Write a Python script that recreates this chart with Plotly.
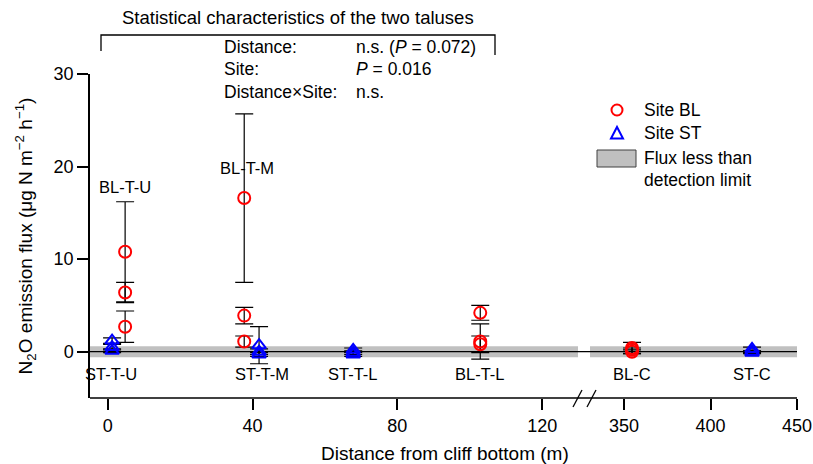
import plotly.graph_objects as go

# ---------------- data ----------------
# Site BL (circles)
bl_near_x = [4.8, 4.8, 4.8, 37.7, 37.7, 37.7, 102.9, 102.9, 102.9]
bl_near_y = [10.8, 6.4, 2.7, 16.6, 3.9, 1.1, 4.2, 1.1, 0.8]
bl_near_err = [5.4, 1.1, 1.7, 9.1, 0.9, 0.6, 0.8, 1.9, 0.9]
bl_far_x = [354.6, 354.6, 354.6]
bl_far_y = [0.4, 0.2, 0.0]
bl_far_err = [0.6, 0.2, 0.2]

# Site ST (triangles)
st_near_x = [1.2, 1.2, 1.2, 41.8, 41.8, 41.8, 67.8, 67.8, 67.8]
st_near_y = [1.2, 0.5, 0.1, 0.7, 0.0, -0.3, 0.2, -0.1, -0.3]
st_near_err = [0.3, 0.3, 0.2, 2.0, 0.3, 0.2, 0.2, 0.2, 0.2]
st_far_x = [424, 424, 424]
st_far_y = [0.3, 0.0, -0.1]
st_far_err = [0.2, 0.1, 0.1]

detection_limit = 0.6

# location labels
top_labels = ["BL-T-U", "BL-T-M"]
top_label_x = [4.8, 38.5]
top_label_y = [17.8, 19.9]
bottom_labels_near = ["ST-T-U", "ST-T-M", "ST-T-L", "BL-T-L"]
bottom_labels_near_x = [1.0, 42.5, 67.8, 102.9]
bottom_labels_far = ["BL-C", "ST-C"]
bottom_labels_far_x = [354.6, 424]
bottom_label_y = -2.4

left_ticks = [0, 40, 80, 120]
right_ticks = [350, 400, 450]
y_ticks = [0, 10, 20, 30]

# ---------------- layout helpers ----------------
W, H = 813, 464
L, R, T, B = 90, 16, 74, 66
PW, PH = W - L - R, H - T - B


def px(X):
    return (X - L) / PW


def py(Y):
    return (H - B - Y) / PH


FONT = "Arial, Liberation Sans, sans-serif"
RED = "#ff0000"
BLUE = "#0000ff"
GRAY = "#c0c0c0"

fig = go.Figure()

err_style = dict(type="data", visible=True, color="black", thickness=1.2, width=9)


def add_series(x, y, err, xaxis, symbol, color):
    fig.add_trace(go.Scatter(
        x=x, y=y, xaxis=xaxis, yaxis="y", mode="markers",
        error_y=dict(array=err, **err_style),
        marker=dict(symbol=symbol, size=12, color=color,
                    line=dict(color=color, width=2)),
        showlegend=False, cliponaxis=False,
    ))


add_series(bl_near_x, bl_near_y, bl_near_err, "x", "circle-open", RED)
add_series(st_near_x, st_near_y, st_near_err, "x", "triangle-up-open", BLUE)
add_series(bl_far_x, bl_far_y, bl_far_err, "x2", "circle-open", RED)
add_series(st_far_x, st_far_y, st_far_err, "x2", "triangle-up-open", BLUE)

shapes = []
# detection-limit bands
for xr in ["x domain", "x2 domain"]:
    shapes.append(dict(type="rect", xref=xr, yref="y", x0=0, x1=1,
                       y0=-detection_limit, y1=detection_limit,
                       fillcolor=GRAY, line=dict(width=0), layer="below"))
# zero line
shapes.append(dict(type="line", xref="paper", yref="y", x0=0, x1=1, y0=0, y1=0,
                   line=dict(color="black", width=1.3), layer="below"))
# bottom axis line (continuous across break)
shapes.append(dict(type="line", xref="paper", yref="paper", x0=0, x1=1, y0=0, y1=0,
                   line=dict(color="black", width=1.5)))
# break marks
for x0 in [573, 587]:
    shapes.append(dict(type="line", xref="paper", yref="paper",
                       x0=px(x0), x1=px(x0 + 9), y0=py(407), y1=py(390),
                       line=dict(color="black", width=1.3)))
# top bracket
shapes.append(dict(type="path", xref="paper", yref="paper",
                   path=f"M {px(101)} {py(51)} L {px(101)} {py(35)} L {px(495)} {py(35)} L {px(495)} {py(55)}",
                   line=dict(color="black", width=1.3)))
# legend symbols
shapes.append(dict(type="circle", xref="paper", yref="paper",
                   x0=px(611.5), x1=px(622.5), y0=py(104.5), y1=py(115.5),
                   line=dict(color=RED, width=2)))
shapes.append(dict(type="path", xref="paper", yref="paper",
                   path=f"M {px(611)} {py(138.5)} L {px(623)} {py(138.5)} L {px(617)} {py(127)} Z",
                   line=dict(color=BLUE, width=2)))
shapes.append(dict(type="rect", xref="paper", yref="paper",
                   x0=px(597), x1=px(636), y0=py(150), y1=py(167),
                   fillcolor=GRAY, line=dict(color="#404040", width=1)))

ann = []


def note(text, x, y, size, xref="paper", yref="paper", xanchor="center"):
    ann.append(dict(text=text, x=x, y=y, xref=xref, yref=yref, showarrow=False,
                    xanchor=xanchor, yanchor="middle",
                    font=dict(family=FONT, size=size, color="black")))


for t, x, y in zip(top_labels, top_label_x, top_label_y):
    note(t, x, y, 16.5, "x", "y")
for t, x in zip(bottom_labels_near, bottom_labels_near_x):
    note(t, x, bottom_label_y, 16.5, "x", "y")
for t, x in zip(bottom_labels_far, bottom_labels_far_x):
    note(t, x, bottom_label_y, 16.5, "x2", "y")

note("Statistical characteristics of the two taluses", px(298), py(18), 18.5)
rows = [("Distance:", "n.s. (<i>P</i> = 0.072)", 47),
        ("Site:", "<i>P</i> = 0.016", 69),
        ("Distance×Site:", "n.s.", 92)]
for a, b, Y in rows:
    note(a, px(222), py(Y), 17.5, xanchor="left")
    note(b, px(354), py(Y), 17.5, xanchor="left")
# legend texts
for t, Y in [("Site BL", 110), ("Site ST", 133), ("Flux less than", 158), ("detection limit", 180)]:
    note(t, px(642), py(Y), 17.5, xanchor="left")
# x axis title
note("Distance from cliff bottom (m)", px(445), py(453), 19)

axis_common = dict(showgrid=False, zeroline=False, ticks="outside", ticklen=11,
                   tickwidth=1.5, tickcolor="black", automargin=False,
                   ticklabeloverflow="allow",
                   tickfont=dict(family=FONT, size=18, color="black"))

fig.update_layout(
    template="none",
    width=W, height=H,
    margin=dict(l=L, r=R, t=T, b=B),
    paper_bgcolor="white", plot_bgcolor="white",
    showlegend=False,
    xaxis=dict(domain=[0, px(578)], range=[-4.9, 129.9], tickvals=left_ticks,
               showline=False, anchor="y", **axis_common),
    xaxis2=dict(domain=[px(590), 1], range=[330.3, 450], tickvals=right_ticks,
                showline=False, anchor="y", **axis_common),
    yaxis=dict(range=[-5, 30], tickvals=y_ticks, showline=True, linecolor="black",
               linewidth=1.5, anchor="x",
               title=dict(text="N<sub>2</sub>O emission flux (μg N m<sup>−2</sup> h<sup>−1</sup>)",
                          font=dict(family=FONT, size=19, color="black"), standoff=16),
               **axis_common),
    shapes=shapes,
    annotations=ann,
)

fig.write_html("out.html")
